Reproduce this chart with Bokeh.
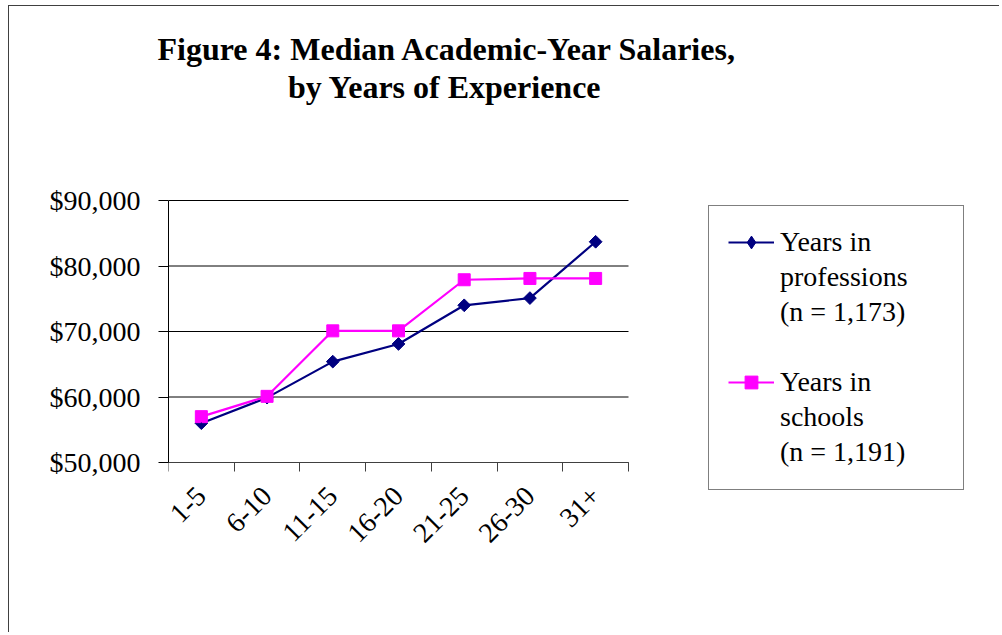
from math import pi
from bokeh.plotting import figure
from bokeh.models import (Range1d, LinearAxis, FixedTicker, NumeralTickFormatter,
                          Legend, LegendItem, Title)
from bokeh.embed import file_html
from bokeh.resources import INLINE

# ---- data ----
categories = ["1-5", "6-10", "11-15", "16-20", "21-25", "26-30", "31+"]
professions = [56000, 59900, 65400, 68100, 74000, 75100, 83700]
schools = [57000, 60100, 70100, 70100, 77900, 78100, 78100]
y_ticks = [50000, 60000, 70000, 80000, 90000]
title_lines = ["Figure 4: Median Academic-Year Salaries,", "by Years of Experience"]
legend_professions = ["Years in", "professions", "(n = 1,173)"]
legend_schools = ["Years in", "schools", "(n = 1,191)"]

NAVY = "#000080"
MAGENTA = "#FF00FF"
FONT = "Liberation Serif"
BORDER = "1px solid #404040"

x_pos = [i + 0.5 for i in range(len(categories))]
n = len(categories)

# ---- layout geometry (canvas origin on the page: 9, 6) ----
PLOT_W, PLOT_H = 460, 262          # pixel size of the chart area (categories x 50k..90k)
FRAME_W = 827                      # frame also hosts the legend on the right
TOP_PAD, BOTTOM_PAD = 2, 29        # frame space above 90k and below 50k
y0, y1 = y_ticks[0], y_ticks[-1]
per_px = (y1 - y0) / PLOT_H
x_end = n * FRAME_W / PLOT_W

p = figure(width=991, height=627, output_backend="svg", toolbar_location=None,
           x_range=Range1d(0, x_end),
           y_range=Range1d(y0 - BOTTOM_PAD * per_px, y1 + TOP_PAD * per_px),
           x_axis_location=None, y_axis_location=None,
           min_border_left=159, min_border_right=5, min_border_top=192, min_border_bottom=142)
p.margin = (5, 0, 0, 8)
p.styles = {"border-left": BORDER, "border-top": BORDER}
p.outline_line_color = None
p.background_fill_color = "white"
p.border_fill_color = "white"
p.grid.visible = False

# horizontal grid lines across the chart area only
p.segment(x0=[0] * len(y_ticks), y0=y_ticks, x1=[n] * len(y_ticks), y1=y_ticks,
          line_color="black", line_width=1)

yaxis = LinearAxis(ticker=FixedTicker(ticks=y_ticks), formatter=NumeralTickFormatter(format="$0,0"),
                   bounds=(y0, y1),
                   major_tick_out=10, major_tick_in=0, minor_tick_out=0, minor_tick_in=0,
                   major_label_standoff=18, major_label_text_font=FONT,
                   major_label_text_font_size="28px", major_label_text_color="black",
                   axis_line_color="black", major_tick_line_color="black")
p.add_layout(yaxis, "left")

# category labels (below the frame)
xlabel_axis = LinearAxis(ticker=FixedTicker(ticks=x_pos),
                         major_label_overrides={x: c for x, c in zip(x_pos, categories)},
                         major_tick_out=0, major_tick_in=0, minor_tick_out=0, minor_tick_in=0,
                         axis_line_color=None, major_label_orientation=pi / 4,
                         major_label_standoff=0, major_label_text_font=FONT,
                         major_label_text_font_size="28px", major_label_text_color="black")
p.add_layout(xlabel_axis, "below")

# category axis line with boundary ticks, fixed at the 50k baseline
bounds = list(range(n + 1))
xtick_axis = LinearAxis(ticker=FixedTicker(ticks=bounds), fixed_location=y0, bounds=(0, n),
                        major_label_overrides={b: "" for b in bounds},
                        major_label_text_font_size="1px", major_label_standoff=0,
                        major_tick_out=9, major_tick_in=0, minor_tick_out=0, minor_tick_in=0,
                        axis_line_color="#404040", major_tick_line_color="#404040")
p.add_layout(xtick_axis, "below")

r1 = p.line(x_pos, professions, line_color=NAVY, line_width=2.2)
p.scatter(x_pos, professions, marker="square", angle=pi / 4, size=9,
          fill_color=NAVY, line_color=NAVY)
r2 = p.line(x_pos, schools, line_color=MAGENTA, line_width=2.2)
r2m = p.scatter(x_pos, schools, marker="square", size=12, fill_color=MAGENTA, line_color=MAGENTA)
# legend key for the diamond series (a tiny diamond hidden under the first data marker)
k1m = p.scatter(x_pos[:1], professions[:1], marker="diamond", size=1,
                fill_color=NAVY, line_color=NAVY)
blank = p.line(x=[], y=[], line_alpha=0)

items = [LegendItem(label=legend_professions[0], renderers=[r1, k1m]),
         LegendItem(label=legend_professions[1], renderers=[blank]),
         LegendItem(label=legend_professions[2], renderers=[blank]),
         LegendItem(label="\u00a0", renderers=[blank]),
         LegendItem(label=legend_schools[0], renderers=[r2, r2m]),
         LegendItem(label=legend_schools[1], renderers=[blank]),
         LegendItem(label=legend_schools[2], renderers=[blank])]

legend = Legend(items=items, location=(540, 1.2), orientation="vertical",
                padding=19, margin=0, spacing=0, glyph_width=46, glyph_height=32,
                label_height=35, label_width=164, label_standoff=6,
                label_text_font=FONT, label_text_font_size="28px", label_text_color="black",
                border_line_color="black", border_line_width=1,
                background_fill_color="white", background_fill_alpha=1)
p.add_layout(legend)

# title: spacer nearest the plot, then line 2, then line 1
title_kw = dict(text_font=FONT, text_font_size="32px", text_font_style="bold", text_color="black")
p.add_layout(Title(text="\u00a0", align="left", offset=0, standoff=55.5, **title_kw), "above")
p.add_layout(Title(text=title_lines[1], align="left", offset=119.5, standoff=0, **title_kw), "above")
p.add_layout(Title(text=title_lines[0], align="left", offset=-11, standoff=0, **title_kw), "above")

open("out.html", "w").write(file_html(p, INLINE))
